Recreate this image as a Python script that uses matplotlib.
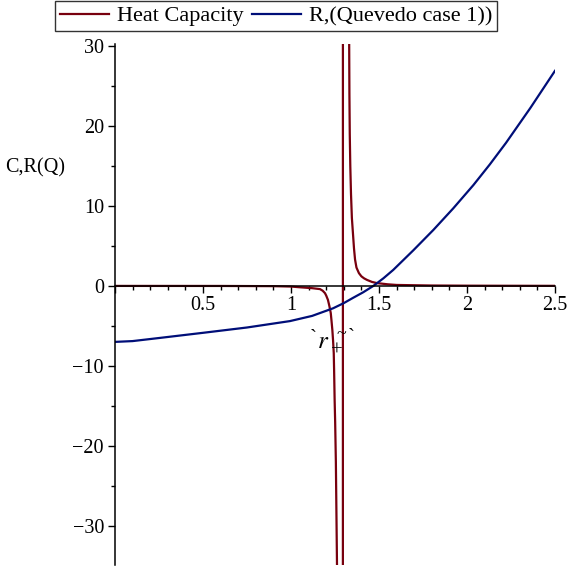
import matplotlib
matplotlib.use("Agg")
import matplotlib.pyplot as plt
from matplotlib.ticker import MultipleLocator, FuncFormatter

plt.rcParams['font.family'] = ['Liberation Serif', 'DejaVu Serif']
plt.rcParams['mathtext.fontset'] = 'stix'

# heat capacity (the +-3000 pair is the maple jump across the pole)
c_x = [0.0, 0.6, 0.9, 1.0, 1.051, 1.12, 1.165, 1.18, 1.193, 1.20, 1.210, 1.218, 1.226, 1.23, 1.235, 1.239,
       1.243, 1.245, 1.248, 1.251, 1.255, 1.262,
       1.290, 1.300,
       1.3305, 1.332, 1.334, 1.337, 1.341, 1.346, 1.352, 1.358, 1.364, 1.372, 1.386, 1.40, 1.415, 1.432,
       1.46, 1.489, 1.55, 1.6, 1.8, 2.0, 2.2, 2.5]
c_y = [0.0, -0.005, -0.03, -0.08, -0.17, -0.28, -0.4, -0.6, -0.9, -1.2, -1.75, -2.5, -3.4, -4.3, -5.5, -6.8,
       -8.4, -10.5, -14.25, -17.0, -22.0, -36.0,
       -3000.0, 3000.0,
       31.0, 24.0, 19.0, 15.0, 11.5, 8.5, 6.6, 4.7, 3.3, 2.3, 1.6, 1.2, 0.95, 0.75,
       0.5, 0.35, 0.2, 0.12, 0.05, 0.03, 0.02, 0.01]

# quevedo scalar R
r_x = [0.0, 0.1, 0.256, 0.506, 0.75, 0.994, 1.12, 1.239, 1.3, 1.352, 1.41, 1.468, 1.525, 1.581, 1.695,
       1.809, 1.922, 2.036, 2.13, 2.222, 2.36, 2.5]
r_y = [-7.0, -6.9, -6.5, -5.85, -5.2, -4.4, -3.75, -2.8, -2.15, -1.5, -0.8, 0.0, 0.95, 2.0, 4.45,
       7.0, 9.7, 12.6, 15.2, 17.9, 22.25, 26.9]

labels = ['Heat Capacity', 'R,(Quevedo case 1))']
red = '#78000E'
blue = '#000E78'

fig = plt.figure(figsize=(5.67, 5.74), dpi=100)
ax = fig.add_axes([0.2028, 0.0157, 0.776, 0.9076])

ax.plot(c_x, c_y, color=red, lw=1.6, label=labels[0])
ax.plot(r_x, r_y, color=blue, lw=1.6, label=labels[1])

ax.set_xlim(0, 2.5)
ax.set_ylim(-34.9, 30.25)

ax.spines['left'].set_position(('data', 0))
ax.spines['bottom'].set_position(('data', 0))
ax.spines['right'].set_visible(False)
ax.spines['top'].set_visible(False)
for s in ['left', 'bottom']:
    ax.spines[s].set_linewidth(1.1)

ax.xaxis.set_major_locator(MultipleLocator(0.5))
ax.xaxis.set_minor_locator(MultipleLocator(0.1))
ax.yaxis.set_major_locator(MultipleLocator(10))
ax.yaxis.set_minor_locator(MultipleLocator(5))

def xfmt(v, pos):
    if abs(v) < 1e-9:
        return ''
    return ('%g' % v)

def yfmt(v, pos):
    return ('%d' % v).replace('-', '\u2212')

ax.xaxis.set_major_formatter(FuncFormatter(xfmt))
ax.yaxis.set_major_formatter(FuncFormatter(yfmt))
ax.tick_params(axis='both', which='major', direction='out', length=5, width=1, labelsize=14.5, pad=3)
ax.tick_params(axis='both', which='minor', direction='out', length=3, width=1)
ax.tick_params(axis='x', which='major', pad=2)

fig.text(0.062, 0.707, 'C,R(Q)', fontsize=14.5, ha='center', va='center')

# maple's r+ axis label
ax.text(1.125, -6.7, '`', fontsize=15, ha='center', va='center')
ax.text(1.18, -7.0, '$r$', fontsize=18, ha='center', va='center')
ax.text(1.258, -8.2, '+', fontsize=15, ha='center', va='center')
ax.text(1.284, -6.1, '~', fontsize=13, ha='center', va='center')
ax.text(1.345, -6.6, '`', fontsize=15, ha='center', va='center')

leg = fig.legend(loc='center', bbox_to_anchor=(0.487, 0.972), ncol=2, fontsize=16,
                 frameon=True, fancybox=False, edgecolor='black', handlelength=2.2,
                 handletextpad=0.36, columnspacing=0.4, borderpad=0.2, borderaxespad=0)
leg.get_frame().set_linewidth(1.0)

fig.savefig('out.png', dpi=100)
